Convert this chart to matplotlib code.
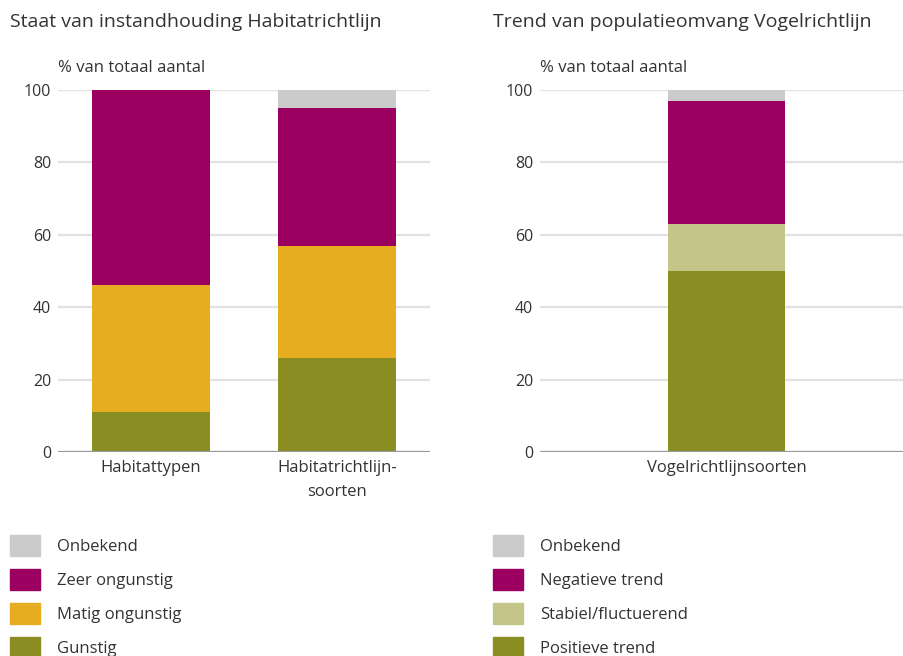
import matplotlib.pyplot as plt
from matplotlib.patches import Patch

plt.rcParams["font.family"] = ["Open Sans", "DejaVu Sans"]

# ── Data (% van totaal aantal) ──
hr_categories = ["Habitattypen", "Habitatrichtlijn-\nsoorten"]
hr_gunstig = [11, 26]
hr_matig = [35, 31]
hr_zeer = [54, 38]
hr_onbekend = [0, 5]

vr_categories = ["Vogelrichtlijnsoorten"]
vr_positief = [50]
vr_stabiel = [13]
vr_negatief = [34]
vr_onbekend = [3]

yticks = [0, 20, 40, 60, 80, 100]

# ── Colours ──
C_GREY = "#cbcbcb"
C_PURPLE = "#9b0060"
C_GOLD = "#e5ad1f"
C_OLIVE = "#8a8d22"
C_LIGHTOLIVE = "#c3c589"
TXT = "#333333"

W, H = 904, 656
fig = plt.figure(figsize=(W / 100, H / 100), dpi=100)


def px_axes(x0, x1, y_top, y_bot):
    return fig.add_axes([x0 / W, 1 - y_bot / H, (x1 - x0) / W, (y_bot - y_top) / H])


def style_axes(ax):
    ax.set_ylim(0, 100)
    ax.set_yticks(yticks)
    for s in ax.spines.values():
        s.set_visible(False)
    ax.tick_params(axis="both", length=0, labelcolor=TXT)
    ax.tick_params(axis="y", pad=5, labelsize=11.5)
    ax.tick_params(axis="x", pad=6, labelsize=12)
    for t in yticks[1:]:
        ax.axhline(t, color="#e2e2e2", lw=1.6, zorder=0)
    ax.axhline(0, color="#9a9a9a", lw=1.6, zorder=3)


def stack(ax, cats, layers):
    x = list(range(len(cats)))
    bottom = [0] * len(cats)
    for vals, col, w in layers:
        ax.bar(x, vals, bottom=bottom, color=col, width=w, zorder=2, linewidth=0)
        bottom = [b + v for b, v in zip(bottom, vals)]
    ax.set_xticks(x)
    ax.set_xticklabels(cats, linespacing=1.6)


# ── Left panel: Habitatrichtlijn ──
ax1 = px_axes(58, 430, 90, 452)
style_axes(ax1)
stack(ax1, hr_categories, [
    (hr_gunstig, C_OLIVE, 0.63),
    (hr_matig, C_GOLD, 0.63),
    (hr_zeer, C_PURPLE, 0.63),
    (hr_onbekend, C_GREY, 0.63),
])
ax1.set_xlim(-0.5, 1.5)

# ── Right panel: Vogelrichtlijn ──
ax2 = px_axes(540, 913, 90, 452)
style_axes(ax2)
stack(ax2, vr_categories, [
    (vr_positief, C_OLIVE, 0.314),
    (vr_stabiel, C_LIGHTOLIVE, 0.314),
    (vr_negatief, C_PURPLE, 0.314),
    (vr_onbekend, C_GREY, 0.314),
])
ax2.set_xlim(-0.5, 0.5)

# ── Titles ──
fig.text(10 / W, 1 - 22 / H, "Staat van instandhouding Habitatrichtlijn",
         fontsize=14, color=TXT, va="center", ha="left")
fig.text(493 / W, 1 - 22 / H, "Trend van populatieomvang Vogelrichtlijn",
         fontsize=14, color=TXT, va="center", ha="left")
fig.text(58 / W, 1 - 68 / H, "% van totaal aantal",
         fontsize=12, color=TXT, va="center", ha="left")
fig.text(540 / W, 1 - 68 / H, "% van totaal aantal",
         fontsize=12, color=TXT, va="center", ha="left")

# ── Legends ──
leg_kw = dict(loc="upper left", frameon=False, fontsize=12, labelcolor=TXT,
              handlelength=1.8, handleheight=1.55, handletextpad=1.0,
              labelspacing=0.79, borderpad=0, borderaxespad=0)
hr_handles = [Patch(color=C_GREY), Patch(color=C_PURPLE),
              Patch(color=C_GOLD), Patch(color=C_OLIVE)]
fig.legend(hr_handles, ["Onbekend", "Zeer ongunstig", "Matig ongunstig", "Gunstig"],
           bbox_to_anchor=(10 / W, 1 - 535 / H), **leg_kw)
vr_handles = [Patch(color=C_GREY), Patch(color=C_PURPLE),
              Patch(color=C_LIGHTOLIVE), Patch(color=C_OLIVE)]
fig.legend(vr_handles, ["Onbekend", "Negatieve trend", "Stabiel/fluctuerend", "Positieve trend"],
           bbox_to_anchor=(493 / W, 1 - 535 / H), **leg_kw)

fig.savefig("out.png", dpi=100)
